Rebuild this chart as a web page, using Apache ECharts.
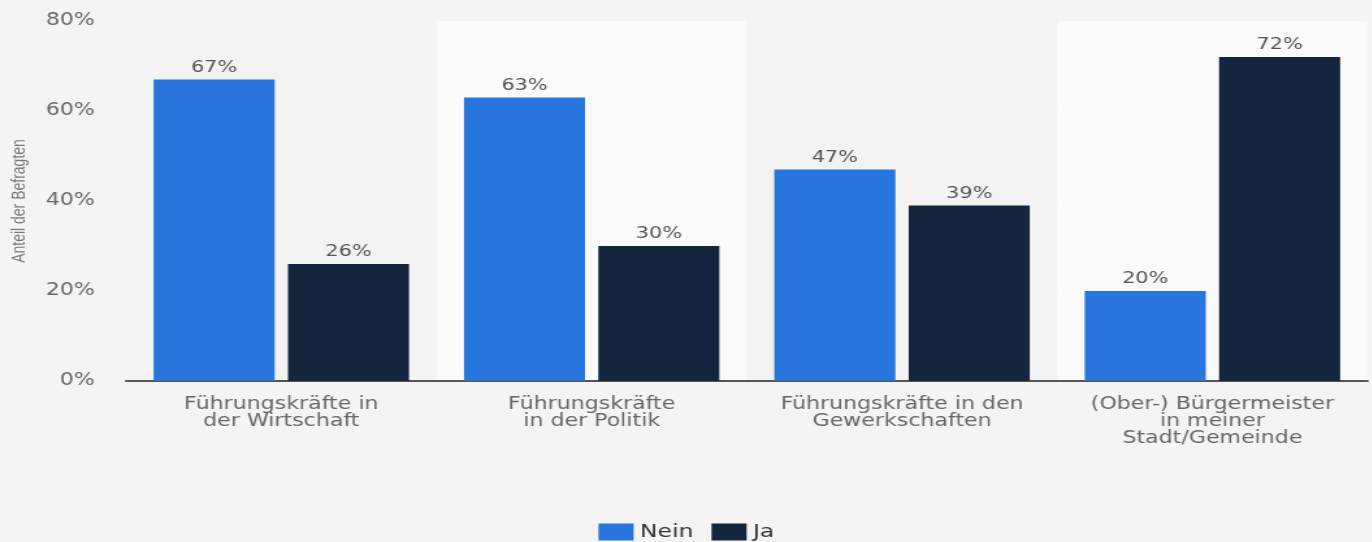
<!DOCTYPE html>
<html>
<head>
<meta charset="utf-8">
<script src="https://cdn.jsdelivr.net/npm/echarts@6/dist/echarts.min.js"></script>
<style>
  html, body { margin: 0; padding: 0; background: #f4f4f4; overflow: hidden; }
  /* the original is rendered a bit wide: draw narrower, then stretch horizontally */
  #main { width: 1056px; height: 542px; transform: scaleX(1.3); transform-origin: 0 0; }
</style>
</head>
<body>
<div id="main"></div>
<script>
// Kategorien (Zeilenumbrüche wie im Original)
var categories = [
  'Führungskräfte in\nder Wirtschaft',
  'Führungskräfte\nin der Politik',
  'Führungskräfte in den\nGewerkschaften',
  '(Ober-) Bürgermeister\nin meiner\nStadt/Gemeinde'
];
var neinValues = [67, 63, 47, 20];
var jaValues = [26, 30, 39, 72];
var yTicks = [0, 20, 40, 60, 80];

var myChart = echarts.init(document.getElementById('main'));

var labelStyle = {
  show: true,
  position: 'top',
  distance: 4,
  formatter: '{c}%',
  color: '#555',
  fontFamily: 'DejaVu Sans',
  fontSize: 16
};

var option = {
  backgroundColor: '#f4f4f4',
  animation: false,
  grid: {
    left: 94,
    right: 4,
    top: 21,
    bottom: 161
  },
  legend: {
    top: 518,
    left: 'center',
    itemWidth: 27,
    itemHeight: 17,
    itemGap: 14,
    icon: 'rect',
    textStyle: {
      color: '#333',
      fontFamily: 'DejaVu Sans',
      fontSize: 18
    },
    data: ['Nein', 'Ja']
  },
  xAxis: {
    type: 'category',
    data: categories,
    axisLine: { lineStyle: { color: '#555', width: 2 } },
    axisTick: { show: false },
    axisLabel: {
      interval: 0,
      color: '#666',
      fontFamily: 'DejaVu Sans',
      fontSize: 17,
      lineHeight: 17,
      margin: 15
    },
    splitArea: {
      show: true,
      interval: 0,
      areaStyle: { color: ['#f3f3f3', '#fafafa'] }
    }
  },
  yAxis: {
    type: 'value',
    min: yTicks[0],
    max: yTicks[yTicks.length - 1],
    interval: 20,
    name: 'Anteil der Befragten',
    nameLocation: 'middle',
    nameGap: 75,
    nameTextStyle: {
      color: '#777',
      fontFamily: 'Liberation Sans',
      fontSize: 14
    },
    axisLine: { show: false },
    axisTick: { show: false },
    axisLabel: {
      formatter: '{value}%',
      color: '#666',
      fontFamily: 'DejaVu Sans',
      fontSize: 17,
      margin: 24
    },
    splitLine: {
      lineStyle: { color: '#c8c8c8', type: 'dotted', width: 1 }
    }
  },
  series: [
    {
      name: 'Nein',
      type: 'bar',
      data: neinValues,
      barWidth: '39%',
      barGap: '11%',
      itemStyle: { color: '#2876dd' },
      label: labelStyle
    },
    {
      name: 'Ja',
      type: 'bar',
      data: jaValues,
      barWidth: '39%',
      itemStyle: { color: '#13263e' },
      label: labelStyle
    }
  ]
};

myChart.setOption(option);
</script>
</body>
</html>
